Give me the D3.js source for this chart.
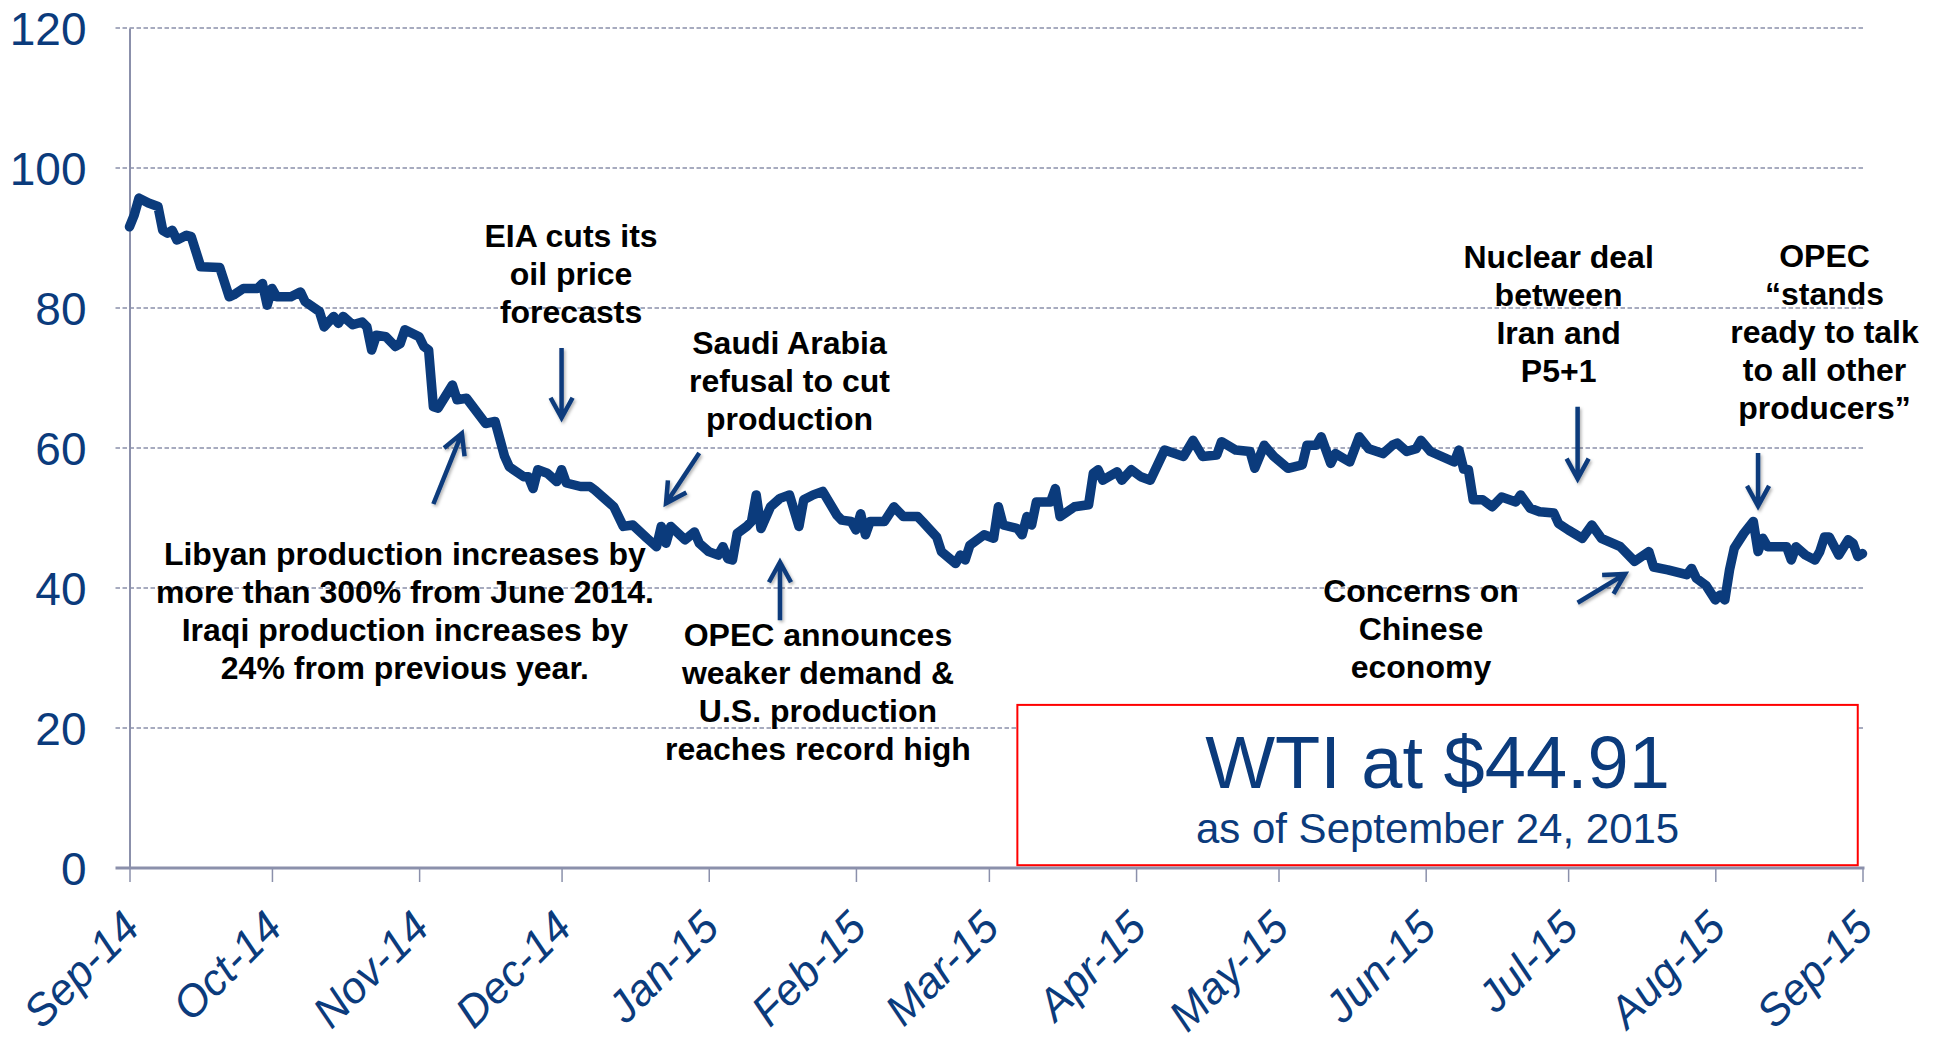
<!DOCTYPE html>
<html>
<head>
<meta charset="utf-8">
<script src="https://cdn.jsdelivr.net/npm/d3@7"></script>
<style>
  body { margin: 0; background: #fff; }
  svg text { font-family: "Liberation Sans", Arial, sans-serif; }
</style>
</head>
<body>
<script>
var w = 1942;
var h = 1037;
var margin = {top: 28, right: 79.5, bottom: 169, left: 129.5};

// WTI daily price
var dates = [
  "2014-09-24","2014-09-25","2014-09-26","2014-09-28","2014-09-30","2014-10-01","2014-10-02","2014-10-03",
  "2014-10-04","2014-10-06","2014-10-07","2014-10-09","2014-10-13","2014-10-15","2014-10-16","2014-10-18",
  "2014-10-21","2014-10-22","2014-10-23","2014-10-24","2014-10-25","2014-10-28","2014-10-30","2014-10-31",
  "2014-11-03","2014-11-04","2014-11-06","2014-11-07","2014-11-08","2014-11-10","2014-11-12","2014-11-13",
  "2014-11-14","2014-11-15","2014-11-17","2014-11-19","2014-11-20","2014-11-21","2014-11-24","2014-11-25",
  "2014-11-26","2014-11-27","2014-11-28","2014-12-01","2014-12-02","2014-12-04","2014-12-08","2014-12-10",
  "2014-12-12","2014-12-13","2014-12-16","2014-12-17","2014-12-18","2014-12-19","2014-12-21","2014-12-23",
  "2014-12-24","2014-12-25","2014-12-28","2014-12-30","2014-12-31","2015-01-02","2015-01-04","2015-01-06",
  "2015-01-08","2015-01-11","2015-01-13","2015-01-14","2015-01-15","2015-01-16","2015-01-19","2015-01-21",
  "2015-01-22","2015-01-24","2015-01-26","2015-01-27","2015-01-28","2015-01-29","2015-01-30","2015-02-01",
  "2015-02-02","2015-02-03","2015-02-04","2015-02-06","2015-02-08","2015-02-10","2015-02-12","2015-02-13",
  "2015-02-15","2015-02-17","2015-02-20","2015-02-21","2015-02-23","2015-02-24","2015-02-25","2015-02-26",
  "2015-02-27","2015-03-02","2015-03-04","2015-03-06","2015-03-09","2015-03-10","2015-03-13","2015-03-14",
  "2015-03-17","2015-03-18","2015-03-19","2015-03-20","2015-03-23","2015-03-25","2015-03-26","2015-03-27",
  "2015-03-30","2015-03-31","2015-04-01","2015-04-02","2015-04-03","2015-04-06","2015-04-07","2015-04-08",
  "2015-04-11","2015-04-14","2015-04-15","2015-04-16","2015-04-17","2015-04-20","2015-04-21","2015-04-23",
  "2015-04-25","2015-04-27","2015-04-30","2015-05-04","2015-05-06","2015-05-08","2015-05-11","2015-05-12",
  "2015-05-15","2015-05-18","2015-05-19","2015-05-21","2015-05-23","2015-05-26","2015-05-29","2015-05-30",
  "2015-06-01","2015-06-02","2015-06-04","2015-06-05","2015-06-08","2015-06-10","2015-06-12","2015-06-15",
  "2015-06-17","2015-06-18","2015-06-20","2015-06-22","2015-06-23","2015-06-25","2015-06-30","2015-07-01",
  "2015-07-02","2015-07-03","2015-07-04","2015-07-06","2015-07-08","2015-07-10","2015-07-13","2015-07-14",
  "2015-07-16","2015-07-18","2015-07-21","2015-07-22","2015-07-24","2015-07-27","2015-07-29","2015-07-31",
  "2015-08-04","2015-08-07","2015-08-10","2015-08-11","2015-08-14","2015-08-18","2015-08-19","2015-08-20",
  "2015-08-22","2015-08-24","2015-08-25","2015-08-26","2015-08-27","2015-08-28","2015-08-30","2015-09-01",
  "2015-09-02","2015-09-03","2015-09-04","2015-09-08","2015-09-09","2015-09-10","2015-09-12","2015-09-14",
  "2015-09-15","2015-09-16","2015-09-17","2015-09-19","2015-09-21","2015-09-22","2015-09-23","2015-09-24"
];
var prices = [
  91.6,93.3,95.7,95.0,94.5,91.1,90.7,91.1,
  89.7,90.4,90.2,85.9,85.8,81.6,81.9,82.8,
  82.8,83.5,80.4,82.8,81.6,81.6,82.3,80.9,
  79.5,77.3,78.8,77.8,78.8,77.6,78.0,77.3,
  74.0,76.1,75.9,74.5,74.9,76.9,75.9,74.5,
  74.0,65.9,65.7,69.0,66.9,67.1,63.5,63.8,
  58.8,57.3,55.9,55.9,54.2,56.9,56.4,55.2,
  56.9,55.0,54.5,54.5,54.0,52.8,51.6,48.8,
  49.0,47.1,45.9,48.8,46.4,48.8,46.9,48.0,
  46.4,45.2,44.7,45.9,44.2,44.0,47.8,48.8,
  49.5,53.3,48.5,51.6,52.8,53.3,48.8,52.6,
  53.3,53.8,50.4,49.7,49.5,48.3,50.6,47.6,
  49.5,49.5,51.6,50.2,50.2,49.5,47.3,45.2,
  43.5,44.7,44.0,46.1,47.6,47.1,51.6,49.0,
  48.5,47.6,50.2,49.0,52.3,52.3,54.2,50.2,
  51.6,51.9,56.4,56.9,55.4,56.6,55.4,56.9,
  55.9,55.4,59.7,58.8,61.1,58.8,59.0,60.9,
  59.7,59.5,57.1,60.4,58.8,57.1,57.6,60.4,
  60.4,61.6,57.8,59.2,58.0,61.6,59.9,59.2,
  60.4,60.7,59.5,59.9,61.1,59.5,58.0,59.7,
  57.0,56.9,52.6,52.6,51.6,53.0,52.3,53.3,
  51.4,50.9,50.7,49.2,48.3,47.1,49.0,47.1,
  45.9,43.8,45.2,43.0,42.6,41.9,42.8,41.4,
  40.4,38.3,39.0,38.3,42.6,45.7,47.8,49.5,
  45.2,47.1,45.9,45.9,44.0,45.9,44.7,44.0,
  45.2,47.3,47.3,44.7,46.9,46.4,44.5,44.91
];

var monthTicks = ["2014-09-24","2014-10-24","2014-11-24","2014-12-24","2015-01-24","2015-02-24","2015-03-24",
                  "2015-04-24","2015-05-24","2015-06-24","2015-07-24","2015-08-24","2015-09-24"];
var yTicks = [0, 20, 40, 60, 80, 100, 120];

// callouts, placed in data space: [date, price of first baseline]
var notes = [
  {date: "2014-12-26", y: 88.7, lines: ["EIA cuts its", "oil price", "forecasts"]},
  {date: "2015-02-10", y: 73.4, lines: ["Saudi Arabia", "refusal to cut", "production"]},
  {date: "2014-11-21", y: 43.3, lines: ["Libyan production increases by", "more than 300% from June 2014.", "Iraqi production increases by", "24% from previous year."]},
  {date: "2015-02-16", y: 31.7, lines: ["OPEC announces", "weaker demand &", "U.S. production", "reaches record high"]},
  {date: "2015-07-22", y: 85.7, lines: ["Nuclear deal", "between", "Iran and", "P5+1"]},
  {date: "2015-09-16", y: 85.9, lines: ["OPEC", "\u201cstands", "ready to talk", "to all other", "producers\u201d"]},
  {date: "2015-06-23", y: 38.0, lines: ["Concerns on", "Chinese", "economy"]}
];
// arrows: from [date, price] to [date, price]
var arrows = [
  {from: ["2014-12-24", 74.3], to: ["2014-12-24", 64.3]},
  {from: ["2014-11-27", 52.0], to: ["2014-12-03", 62.1]},
  {from: ["2015-01-22", 59.3], to: ["2015-01-15", 52.1]},
  {from: ["2015-02-08", 35.4], to: ["2015-02-08", 43.7]},
  {from: ["2015-07-26", 65.9], to: ["2015-07-26", 55.6]},
  {from: ["2015-09-02", 59.3], to: ["2015-09-02", 51.7]},
  {from: ["2015-07-26", 37.9], to: ["2015-08-05", 42.0]}
];
var boxDates = ["2015-03-30", "2015-09-23"];
var boxPrices = [23.3, 0.4];
var boxTitle = "WTI at $44.91";
var boxSub = "as of September 24, 2015";

var blue = "#0b3b7c";
var gridCol = "#8b90ab";
var parse = d3.timeParse("%Y-%m-%d");

var data = dates.map(function(d, i){
    return {date: parse(d), price: prices[i]};
});

var x = d3.scaleTime()
    .domain([parse(monthTicks[0]), parse(monthTicks[monthTicks.length-1])])
    .range([margin.left, w - margin.right]);
var y = d3.scaleLinear()
    .domain([0, 120])
    .range([h - margin.bottom, margin.top]);

var svg = d3.select("body")
.append("svg")
.attr("width", w)
.attr("height", h);

var shadow = svg.append("defs").append("filter")
    .attr("id", "shadow")
    .attr("x", "-50%").attr("y", "-50%")
    .attr("width", "200%").attr("height", "200%");
shadow.append("feDropShadow")
    .attr("dx", 1.5).attr("dy", 2)
    .attr("stdDeviation", 1.5)
    .attr("flood-color", "#000")
    .attr("flood-opacity", 0.3);

// dashed gridlines
svg.append("g")
    .selectAll("line")
    .data(yTicks.filter(function(d){ return d > 0; }))
    .enter()
    .append("line")
    .attr("x1", margin.left - 14)
    .attr("x2", w - margin.right + 2)
    .attr("y1", function(d){ return y(d); })
    .attr("y2", function(d){ return y(d); })
    .attr("stroke", gridCol)
    .attr("stroke-width", 1.5)
    .attr("stroke-dasharray", "4.5,2.5");

// y axis
var yAxis = svg.append("g")
    .attr("transform", "translate(" + margin.left + ",0)")
    .call(d3.axisLeft(y).tickValues(yTicks).tickSize(0).tickPadding(43));
yAxis.select(".domain").attr("stroke", gridCol).attr("stroke-width", 2);
yAxis.selectAll("text")
    .attr("fill", blue)
    .style("font-size", "46px")
    .attr("dy", "0.36em");

// x axis
var xAxis = svg.append("g")
    .attr("transform", "translate(0," + y(0) + ")")
    .call(d3.axisBottom(x)
        .tickValues(monthTicks.map(parse))
        .tickSize(14)
        .tickSizeOuter(0)
        .tickFormat(d3.timeFormat("%b-%y")));
xAxis.select(".domain").attr("stroke", gridCol).attr("stroke-width", 3)
    .attr("d", "M" + (margin.left - 14) + ",0H" + (w - margin.right + 2));
xAxis.selectAll(".tick line").attr("stroke", gridCol).attr("stroke-width", 1.5);
xAxis.selectAll("text")
    .attr("fill", blue)
    .style("font-size", "44px")
    .style("font-style", "italic")
    .attr("text-anchor", "end")
    .attr("y", 0)
    .attr("dy", 0)
    .attr("transform", "translate(12,62) rotate(-45)");

// price line
var line = d3.line()
    .x(function(d){ return x(d.date); })
    .y(function(d){ return y(d.price); });

svg.append("path")
    .datum(data)
    .attr("d", line)
    .attr("fill", "none")
    .attr("stroke", blue)
    .attr("stroke-width", 9.5)
    .attr("stroke-linejoin", "round")
    .attr("stroke-linecap", "round");

// callout text
var noteG = svg.append("g");
notes.forEach(function(n){
    var t = noteG.append("text")
        .attr("x", x(parse(n.date)))
        .attr("y", y(n.y))
        .attr("text-anchor", "middle")
        .attr("fill", "#000")
        .style("font-size", "32px")
        .style("font-weight", "bold");
    n.lines.forEach(function(l, i){
        t.append("tspan")
            .attr("x", x(parse(n.date)))
            .attr("dy", i == 0 ? 0 : "1.19em")
            .text(l);
    });
});

// arrows
var arrowG = svg.append("g")
    .attr("stroke", blue)
    .attr("stroke-width", 4.5)
    .attr("fill", "none")
    .attr("filter", "url(#shadow)");
arrows.forEach(function(a){
    var x1 = x(parse(a.from[0])), y1 = y(a.from[1]);
    var x2 = x(parse(a.to[0])), y2 = y(a.to[1]);
    var ang = Math.atan2(y2 - y1, x2 - x1);
    var len = 23, spread = 0.5;
    var p1 = [x2 - len*Math.cos(ang - spread), y2 - len*Math.sin(ang - spread)];
    var p2 = [x2 - len*Math.cos(ang + spread), y2 - len*Math.sin(ang + spread)];
    arrowG.append("path")
        .attr("d", "M" + x1 + "," + y1 + "L" + x2 + "," + y2 +
                   "M" + p1[0] + "," + p1[1] + "L" + x2 + "," + y2 + "L" + p2[0] + "," + p2[1]);
});

// price box
var bx0 = x(parse(boxDates[0])), bx1 = x(parse(boxDates[1]));
var by0 = y(boxPrices[0]), by1 = y(boxPrices[1]);
svg.append("rect")
    .attr("x", bx0)
    .attr("y", by0)
    .attr("width", bx1 - bx0)
    .attr("height", by1 - by0)
    .attr("fill", "#fff")
    .attr("stroke", "#ff0000")
    .attr("stroke-width", 2);
svg.append("text")
    .attr("x", (bx0 + bx1)/2)
    .attr("y", by0 + 83)
    .attr("text-anchor", "middle")
    .attr("fill", blue)
    .style("font-size", "74px")
    .text(boxTitle);
svg.append("text")
    .attr("x", (bx0 + bx1)/2)
    .attr("y", by0 + 138)
    .attr("text-anchor", "middle")
    .attr("fill", blue)
    .style("font-size", "42px")
    .text(boxSub);
</script>
</body>
</html>
